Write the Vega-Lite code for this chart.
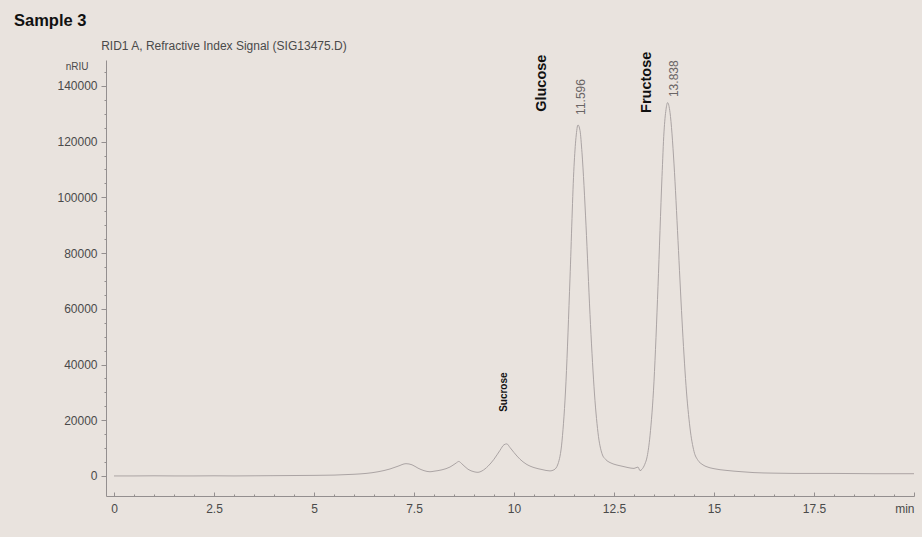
{
  "$schema": "https://vega.github.io/schema/vega-lite/v6.json",
  "width": 808,
  "height": 436,
  "autosize": {"type": "none"},
  "padding": {"left": 106, "top": 60, "right": 8, "bottom": 41},
  "background": "#e9e3de",
  "title": {
    "text": "Sample 3",
    "anchor": "start",
    "frame": "group",
    "dx": -92,
    "fontSize": 16.5,
    "fontWeight": "bold",
    "font": "Liberation Sans",
    "color": "#111111",
    "offset": 10
  },
  "config": {
    "view": {"stroke": null},
    "font": "Liberation Sans",
    "axis": {"labelOverlap": false}
  },
  "datasets": {
    "signal": [
      {"t": 0, "s": 0}, {"t": 0.5, "s": 0}, {"t": 1, "s": 50}, {"t": 1.5, "s": 0},
      {"t": 2, "s": 0}, {"t": 2.5, "s": 50}, {"t": 3, "s": 0}, {"t": 3.5, "s": 50},
      {"t": 4, "s": 100}, {"t": 4.5, "s": 150}, {"t": 5, "s": 200}, {"t": 5.5, "s": 300},
      {"t": 6, "s": 600}, {"t": 6.3, "s": 900}, {"t": 6.6, "s": 1500}, {"t": 6.9, "s": 2500},
      {"t": 7.1, "s": 3500}, {"t": 7.3, "s": 4400}, {"t": 7.45, "s": 4000}, {"t": 7.6, "s": 2800},
      {"t": 7.75, "s": 1900}, {"t": 7.9, "s": 1500}, {"t": 8.0, "s": 1700}, {"t": 8.2, "s": 2200},
      {"t": 8.4, "s": 3200}, {"t": 8.55, "s": 4600}, {"t": 8.62, "s": 5200}, {"t": 8.7, "s": 4300},
      {"t": 8.85, "s": 2400}, {"t": 9.0, "s": 1500}, {"t": 9.1, "s": 1300}, {"t": 9.2, "s": 1800},
      {"t": 9.35, "s": 3500}, {"t": 9.5, "s": 6000}, {"t": 9.65, "s": 9200}, {"t": 9.75, "s": 11200},
      {"t": 9.82, "s": 11500}, {"t": 9.9, "s": 10200}, {"t": 10.0, "s": 8400}, {"t": 10.15, "s": 6000},
      {"t": 10.3, "s": 4300}, {"t": 10.5, "s": 3000}, {"t": 10.7, "s": 2300}, {"t": 10.9, "s": 1800},
      {"t": 11.0, "s": 2200}, {"t": 11.1, "s": 4300}, {"t": 11.2, "s": 12500}, {"t": 11.3, "s": 34000},
      {"t": 11.4, "s": 71000}, {"t": 11.5, "s": 111000}, {"t": 11.55, "s": 121500}, {"t": 11.6, "s": 126000},
      {"t": 11.65, "s": 124000}, {"t": 11.7, "s": 116000}, {"t": 11.8, "s": 90000}, {"t": 11.9, "s": 58000},
      {"t": 12.0, "s": 32000}, {"t": 12.1, "s": 15500}, {"t": 12.2, "s": 8000}, {"t": 12.3, "s": 5800},
      {"t": 12.4, "s": 4800}, {"t": 12.55, "s": 4000}, {"t": 12.7, "s": 3500}, {"t": 12.85, "s": 3000},
      {"t": 13.0, "s": 2700}, {"t": 13.1, "s": 3200}, {"t": 13.15, "s": 1900}, {"t": 13.2, "s": 2400},
      {"t": 13.27, "s": 4200}, {"t": 13.33, "s": 7000}, {"t": 13.4, "s": 14400}, {"t": 13.5, "s": 34000},
      {"t": 13.6, "s": 68000}, {"t": 13.7, "s": 107500}, {"t": 13.75, "s": 123500}, {"t": 13.8, "s": 131500},
      {"t": 13.84, "s": 134000}, {"t": 13.9, "s": 130500}, {"t": 14.0, "s": 112000}, {"t": 14.1, "s": 84500},
      {"t": 14.2, "s": 56000}, {"t": 14.3, "s": 32500}, {"t": 14.4, "s": 17200}, {"t": 14.5, "s": 8800},
      {"t": 14.6, "s": 5600}, {"t": 14.7, "s": 4200}, {"t": 14.8, "s": 3400}, {"t": 15.0, "s": 2600},
      {"t": 15.3, "s": 2000}, {"t": 15.7, "s": 1500}, {"t": 16.0, "s": 1200}, {"t": 16.5, "s": 1000},
      {"t": 17.0, "s": 900}, {"t": 18.0, "s": 900}, {"t": 19.0, "s": 800}, {"t": 20.0, "s": 800}
    ],
    "names": [
      {"t": 10.7, "s": 130700, "label": "Glucose"},
      {"t": 13.325, "s": 130300, "label": "Fructose"}
    ],
    "rts": [
      {"t": 11.675, "s": 129600, "label": "11.596"},
      {"t": 14.0, "s": 136000, "label": "13.838"}
    ],
    "small": [
      {"t": 9.75, "s": 23000, "label": "Sucrose"}
    ],
    "header": [
      {"t": -0.32, "s": 154500, "label": "RID1 A, Refractive Index Signal (SIG13475.D)"}
    ]
  },
  "layer": [
    {
      "data": {"name": "signal"},
      "mark": {"type": "line", "color": "#aba4a4", "strokeWidth": 1, "interpolate": "monotone", "clip": true},
      "encoding": {
        "x": {
          "field": "t",
          "type": "quantitative",
          "scale": {"domain": [-0.2, 20], "nice": false, "zero": false},
          "axis": {
            "title": null,
            "grid": false,
            "tickCount": 200,
            "values": [0,0.5,1,1.5,2,2.5,3,3.5,4,4.5,5,5.5,6,6.5,7,7.5,8,8.5,9,9.5,10,10.5,11,11.5,12,12.5,13,13.5,14,14.5,15,15.5,16,16.5,17,17.5,18,18.5,19,19.5,20],
            "labelExpr": "datum.value === 20 ? 'min' : (datum.value % 2.5 === 0 ? format(datum.value, '~g') : '')",
            "labelFlush": true,
            "labelFontSize": 12,
            "labelColor": "#4a4a4a",
            "labelFont": "Liberation Sans",
            "labelPadding": 11,
            "tickSize": {"condition": {"test": "datum.value % 2.5 === 0", "value": -4}, "value": -2},
            "tickColor": "#948f8f",
            "domainColor": "#948f8f",
            "labelOverlap": false
          }
        },
        "y": {
          "field": "s",
          "type": "quantitative",
          "scale": {"domain": [-7200, 149300], "nice": false, "zero": false},
          "axis": {
            "title": "nRIU",
            "titleAngle": 0,
            "titleAlign": "right",
            "titleBaseline": "middle",
            "titleX": -18,
            "titleY": 6,
            "titleFontSize": 10,
            "titleFontWeight": "normal",
            "titleColor": "#4a4a4a",
            "titleFont": "Liberation Sans",
            "grid": false,
            "tickCount": 200,
            "values": [0,5000,10000,15000,20000,25000,30000,35000,40000,45000,50000,55000,60000,65000,70000,75000,80000,85000,90000,95000,100000,105000,110000,115000,120000,125000,130000,135000,140000,145000],
            "labelExpr": "datum.value % 20000 === 0 ? format(datum.value, 'd') : ''",
            "labelFontSize": 12,
            "labelColor": "#4a4a4a",
            "labelFont": "Liberation Sans",
            "labelPadding": 4,
            "tickSize": {"condition": {"test": "datum.value % 20000 === 0", "value": 5}, "value": 2},
            "tickColor": "#948f8f",
            "domainColor": "#948f8f",
            "labelOverlap": false
          }
        }
      }
    },
    {
      "data": {"name": "names"},
      "mark": {"type": "text", "angle": 270, "align": "left", "baseline": "middle", "font": "Liberation Sans", "fontSize": 14.5, "fontWeight": "bold", "color": "#111111"},
      "encoding": {
        "x": {"field": "t", "type": "quantitative"},
        "y": {"field": "s", "type": "quantitative"},
        "text": {"field": "label"}
      }
    },
    {
      "data": {"name": "rts"},
      "mark": {"type": "text", "angle": 270, "align": "left", "baseline": "middle", "font": "Liberation Sans", "fontSize": 12, "color": "#6a6565"},
      "encoding": {
        "x": {"field": "t", "type": "quantitative"},
        "y": {"field": "s", "type": "quantitative"},
        "text": {"field": "label"}
      }
    },
    {
      "data": {"name": "small"},
      "mark": {"type": "text", "angle": 270, "align": "left", "baseline": "middle", "font": "Liberation Sans", "fontSize": 10, "fontWeight": "bold", "color": "#111111"},
      "encoding": {
        "x": {"field": "t", "type": "quantitative"},
        "y": {"field": "s", "type": "quantitative"},
        "text": {"field": "label"}
      }
    },
    {
      "data": {"name": "header"},
      "mark": {"type": "text", "align": "left", "baseline": "middle", "fontSize": 12, "color": "#4a4a4a", "font": "Liberation Sans"},
      "encoding": {
        "x": {"field": "t", "type": "quantitative"},
        "y": {"field": "s", "type": "quantitative"},
        "text": {"field": "label"}
      }
    }
  ]
}
